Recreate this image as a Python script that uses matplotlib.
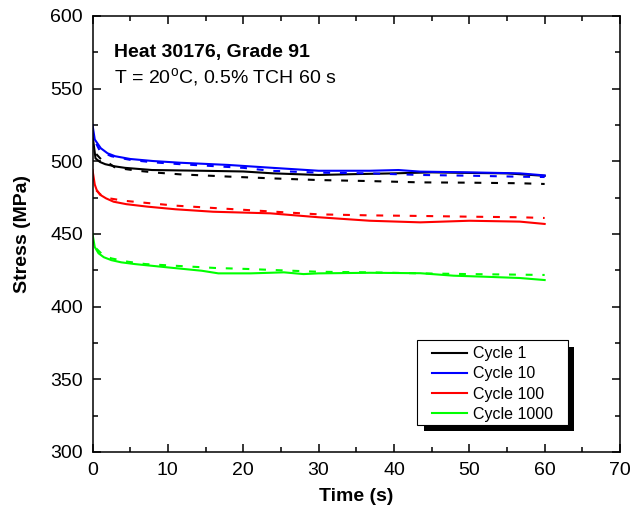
import matplotlib
matplotlib.use('Agg')
import matplotlib.pyplot as plt
from matplotlib.patches import Rectangle

plt.rcParams['font.family'] = ['Liberation Sans', 'DejaVu Sans']
plt.rcParams['mathtext.fontset'] = 'custom'
plt.rcParams['mathtext.rm'] = 'Liberation Sans'

# stress relaxation data
t_c1 = [0, 0.2, 0.4, 1, 1.7, 3, 4.3, 7.9, 14.5, 20, 24, 30, 35, 40, 45, 50, 55, 60]
s_c1 = [518, 510, 502, 499.5, 498, 496.5, 495.5, 494, 493.5, 493, 491.7, 490.6, 491.2, 491.7, 492.4, 492, 491.7, 490]
t_c1_fit = [0.5, 1.2, 2.2, 2.9, 4.3, 6, 8.5, 11.7, 18, 23.6, 30, 36.8, 43.5, 50, 56.7, 60]
s_c1_fit = [505, 501, 498.6, 496, 494.7, 493.5, 492.2, 491, 489.5, 488.3, 487.1, 486.4, 485.5, 485.3, 484.9, 484.4]

t_c10 = [0, 0.3, 1.1, 2, 3, 5, 8, 11.7, 18, 23.6, 30, 36.8, 40.6, 43.5, 50, 56.7, 60]
s_c10 = [525, 515, 509, 505.5, 503.5, 501.6, 500.2, 499, 497.5, 495.6, 493.5, 493.5, 494, 492.9, 492.4, 491.7, 490.3]
t_c10_fit = [0.5, 1, 2.5, 5, 8, 11.7, 20, 23.6, 30, 36.8, 43.5, 50, 56.7, 60]
s_c10_fit = [512, 507, 503.5, 501, 499.3, 498, 495.5, 493.5, 492.2, 491.7, 490.6, 490.1, 489.4, 489.2]

t_c100 = [0, 0.3, 0.55, 1, 1.8, 2.8, 4.5, 7.3, 11, 16, 23.6, 30, 36.8, 43.5, 50, 56.7, 60]
s_c100 = [494, 484, 480.3, 477, 474.5, 472.2, 470.5, 468.8, 467, 465.3, 464.2, 461.5, 459.1, 458, 459.1, 458.5, 456.9]
t_c100_fit = [0.5, 1.1, 2, 4.3, 7.3, 11, 16, 23.6, 30, 36.8, 43.5, 50, 56.7, 60]
s_c100_fit = [480, 477, 474.7, 472.8, 471.3, 469.5, 467.9, 465.5, 463.5, 462.8, 462.4, 461.9, 461.5, 461]

t_c1000 = [0, 0.3, 0.8, 1.5, 2.5, 3.8, 5.6, 10, 14.5, 16.7, 21, 25.4, 28, 30, 36.8, 43.5, 47.9, 52, 56.7, 60]
s_c1000 = [450, 441, 436.7, 434, 432, 430.5, 429.3, 427, 424.7, 422.9, 422.9, 423.6, 422.4, 422.9, 423.3, 423, 421.3, 420.6, 419.7, 418.3]
t_c1000_fit = [0.5, 1.3, 2.5, 4.7, 7, 11.4, 16.3, 20.7, 25, 30, 36.8, 43.5, 50, 56.7, 60]
s_c1000_fit = [440, 436, 433.2, 430.9, 429.3, 428, 426.6, 425.9, 425, 424, 423.6, 422.9, 422.4, 422, 421.8]

labels = ['Cycle 1', 'Cycle 10', 'Cycle 100', 'Cycle 1000']
colors = ['black', '#0000ff', '#ff0000', '#00ff00']

fig = plt.figure(figsize=(6.31, 5.2), dpi=100)
ax = fig.add_axes([0.1466, 0.1308, 0.8360, 0.8385])

series = [(t_c1, s_c1, t_c1_fit, s_c1_fit),
          (t_c10, s_c10, t_c10_fit, s_c10_fit),
          (t_c100, s_c100, t_c100_fit, s_c100_fit),
          (t_c1000, s_c1000, t_c1000_fit, s_c1000_fit)]
for (t, s, tf, sf), lab, c in zip(series, labels, colors):
    ax.plot(tf, sf, color=c, lw=1.5, linestyle=(0, (3.3, 4.7)))
    ax.plot(t, s, color=c, lw=1.5, label=lab)

ax.set_xlim(0, 70)
ax.set_ylim(300, 600)
ax.set_xticks(range(0, 71, 10))
ax.set_xticks(range(5, 70, 10), minor=True)
ax.set_yticks(range(300, 601, 50))
ax.set_yticks(range(325, 600, 50), minor=True)
ax.tick_params(which='both', direction='in', top=True, right=True, labelsize=14, width=1.1)
ax.tick_params(which='major', length=6, pad=7)
ax.tick_params(which='minor', length=3.5)
for sp in ax.spines.values():
    sp.set_linewidth(1.1)

ax.set_xlabel('Time (s)', fontsize=14, fontweight='bold', labelpad=7)
ax.set_ylabel('Stress (MPa)', fontsize=14, fontweight='bold', labelpad=14)

ax.text(0.041, 0.907, 'Heat 30176, Grade 91', transform=ax.transAxes,
        fontsize=14, fontweight='bold', va='baseline')
ax.text(0.041, 0.844, r'T = 20$^{\mathrm{o}}$C, 0.5% TCH 60 s', transform=ax.transAxes,
        fontsize=14, va='baseline')

leg = ax.legend(loc='upper left', bbox_to_anchor=(0.643, 0.2424), borderaxespad=0,
                fontsize=11.5, handlelength=2.2, handletextpad=0.4, labelspacing=0.32,
                borderpad=0, frameon=False)

# legend box with black drop shadow, drawn by hand for wider side padding
fig.canvas.draw()
bb = leg.get_window_extent()
inv = ax.transAxes.inverted()
(fx0, fy0), (fx1, fy1) = inv.transform([[bb.x0 - 14.5, bb.y0 - 3], [bb.x1 + 14.5, bb.y1 + 6]])
(sx0, sy0), (sx1, sy1) = inv.transform([[bb.x0 - 14.5 + 6.5, bb.y0 - 3 - 6.5],
                                        [bb.x1 + 14.5 + 6.5, bb.y1 + 6 - 6.5]])
ax.add_patch(Rectangle((sx0, sy0), sx1 - sx0, sy1 - sy0, transform=ax.transAxes,
                       facecolor='black', edgecolor='none', zorder=4, clip_on=False))
ax.add_patch(Rectangle((fx0, fy0), fx1 - fx0, fy1 - fy0, transform=ax.transAxes,
                       facecolor='white', edgecolor='black', lw=0.8, zorder=4.5, clip_on=False))

fig.savefig('out.png', dpi=100)
